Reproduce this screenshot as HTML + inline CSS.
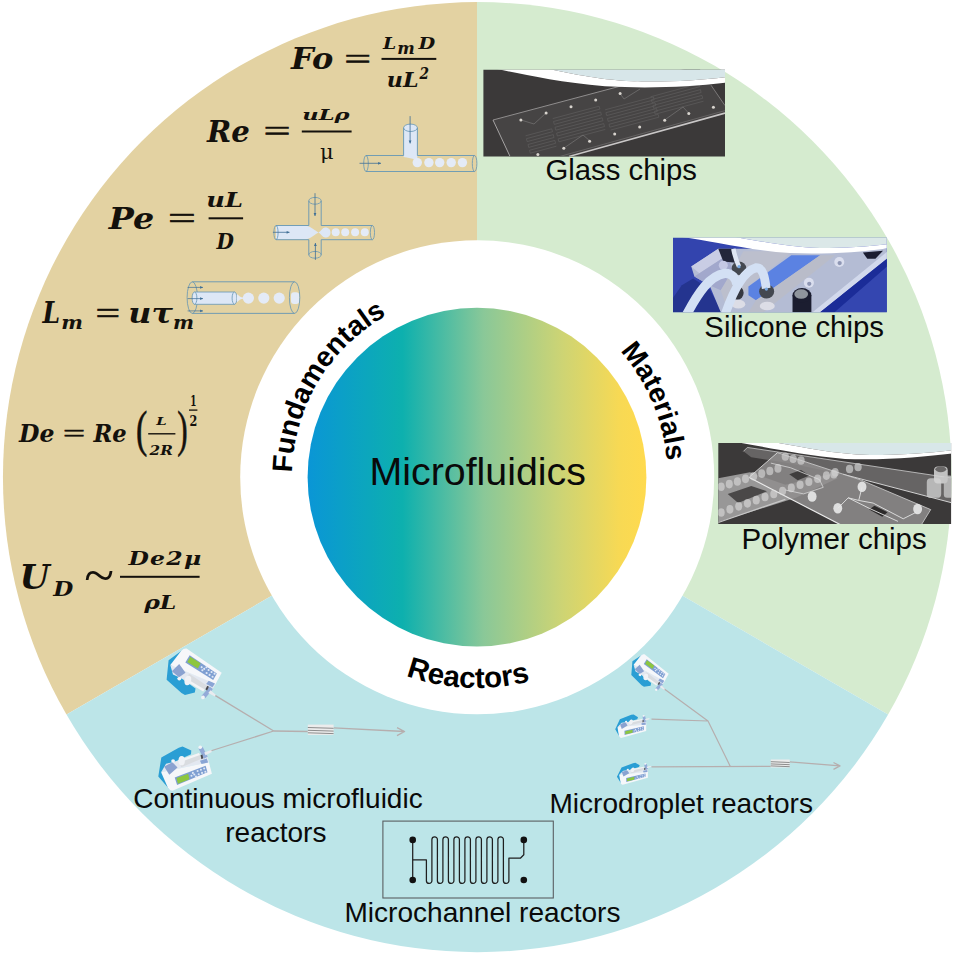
<!DOCTYPE html>
<html lang="en">
<head>
<meta charset="utf-8">
<title>Microfluidics</title>
<style>
html,body{margin:0;padding:0;background:#fff;}
body{width:955px;height:956px;overflow:hidden;}
svg{display:block;}
.lab{font-family:"Liberation Sans",Arial,sans-serif;fill:#0a0a0a;}
.labb{font-family:"Liberation Sans",Arial,sans-serif;font-weight:bold;fill:#000;}
.fm{font-family:"DejaVu Serif","Liberation Serif",serif;font-weight:bold;font-style:italic;fill:#14110c;}
.fq{font-family:"DejaVu Serif","Liberation Serif",serif;font-weight:bold;fill:#14110c;}
.fb{font-family:"DejaVu Serif","Liberation Serif",serif;font-weight:bold;fill:#14110c;}
.fe{font-family:"Liberation Serif",serif;fill:#14110c;stroke:#14110c;stroke-width:0.6px;}
.ft{font-family:"Liberation Serif",serif;fill:#14110c;}
.fu{font-family:"DejaVu Serif","Liberation Serif",serif;fill:#14110c;}
.fp{font-family:"DejaVu Serif","Liberation Serif",serif;fill:#14110c;}
</style>
</head>
<body>
<svg width="955" height="956" viewBox="0 0 955 956">
<defs>
<linearGradient id="cg" x1="307.6" y1="0" x2="646.4" y2="0" gradientUnits="userSpaceOnUse">
<stop offset="0" stop-color="#0a96d6"/>
<stop offset="0.28" stop-color="#0db0ae"/>
<stop offset="0.52" stop-color="#8ac898"/>
<stop offset="0.75" stop-color="#cdd474"/>
<stop offset="0.92" stop-color="#f7d954"/>
<stop offset="1" stop-color="#ffda4e"/>
</linearGradient>
<path id="arcF" d="M 292.0,477 A 185.0,185.0 0 0 1 477,292.0"/>
<path id="arcM" d="M 477,286.5 A 190.5,190.5 0 0 1 667.5,477"/>
<path id="arcR" d="M 266.0,477 A 211.0,211.0 0 0 0 688.0,477"/>
</defs>
<g id="sectors">
<path d="M477,477 L477,2.1 A474.3,475.0 0 0 0 66.5,714.6 Z" fill="#e3d2a2"/>
<path d="M477,477 L477,2.1 A474.3,475.0 0 0 1 888.1,714.6 Z" fill="#d5ebcf"/>
<path d="M477,477 L888.1,714.6 A474.3,475.0 0 0 1 66.5,714.6 Z" fill="#bce5e8"/>
</g>
<circle cx="477.2" cy="477.3" r="237" fill="#fff"/>
<circle cx="477" cy="477.2" r="169.4" fill="url(#cg)"/>
<text class="lab" x="477.7" y="484.6" font-size="39.3" text-anchor="middle">Microfluidics</text>
<text class="labb" font-size="28.3"><textPath href="#arcF" startOffset="4.4">Fundamentals</textPath></text>
<text class="labb" font-size="28"><textPath href="#arcM" startOffset="161.5">Materials</textPath></text>
<text class="labb" font-size="29.5"><textPath href="#arcR" startOffset="258.8">Reactors</textPath></text>
<g id="labels" class="lab">
<text x="545.5" y="180.4" font-size="29.3">Glass chips</text>
<text x="704.3" y="336.8" font-size="29.4">Silicone chips</text>
<text x="741.5" y="549.2" font-size="29.5">Polymer chips</text>
<text x="133.2" y="807.6" font-size="28">Continuous microfluidic</text>
<text x="225.3" y="841.8" font-size="28">reactors</text>
<text x="549.5" y="812.6" font-size="28.05">Microdroplet reactors</text>
<text x="344.5" y="921.7" font-size="28.05">Microchannel reactors</text>
</g>
<g id="formulas">
<text class="fm" x="291.0" y="69.1" font-size="29.5" textLength="42.2" lengthAdjust="spacingAndGlyphs">Fo</text>
<text class="fe" x="344.3" y="69.0" font-size="30.0" textLength="26.8" lengthAdjust="spacingAndGlyphs">=</text>
<text class="fm" x="383.0" y="48.7" font-size="16.8" textLength="13.2" lengthAdjust="spacingAndGlyphs">L</text>
<text class="fm" x="397.3" y="53.5" font-size="17.5" textLength="17.5" lengthAdjust="spacingAndGlyphs">m</text>
<text class="fm" x="418.6" y="48.7" font-size="16.8" textLength="16.7" lengthAdjust="spacingAndGlyphs">D</text>
<rect x="381.5" y="57.90" width="54.8" height="2.0" fill="#14110c"/>
<text class="fm" x="386.8" y="87.3" font-size="21.0" textLength="31.8" lengthAdjust="spacingAndGlyphs">uL</text>
<text class="fm" x="419.5" y="79.3" font-size="17.0" textLength="9.5" lengthAdjust="spacingAndGlyphs">2</text>
<text class="fm" x="207.0" y="141.6" font-size="29.5" textLength="42.8" lengthAdjust="spacingAndGlyphs">Re</text>
<text class="fe" x="263.4" y="141.4" font-size="30.0" textLength="27.1" lengthAdjust="spacingAndGlyphs">=</text>
<text class="fm" x="302.3" y="119.6" font-size="15.5" textLength="47.3" lengthAdjust="spacingAndGlyphs">uLρ</text>
<rect x="301.8" y="130.50" width="49.8" height="2.0" fill="#14110c"/>
<text class="fu" x="320.0" y="158.7" font-size="20.0" textLength="13.6" lengthAdjust="spacingAndGlyphs">μ</text>
<text class="fm" x="108.8" y="228.9" font-size="30.5" textLength="45.4" lengthAdjust="spacingAndGlyphs">Pe</text>
<text class="fe" x="168.1" y="229.4" font-size="32.0" textLength="27.8" lengthAdjust="spacingAndGlyphs">=</text>
<text class="fm" x="206.3" y="206.7" font-size="20.0" textLength="36.7" lengthAdjust="spacingAndGlyphs">uL</text>
<rect x="208.6" y="217.30" width="34.5" height="2.0" fill="#14110c"/>
<text class="fm" x="216.6" y="249.1" font-size="22.0" textLength="17.4" lengthAdjust="spacingAndGlyphs">D</text>
<text class="fm" x="42.4" y="322.7" font-size="29.2" textLength="17.6" lengthAdjust="spacingAndGlyphs">L</text>
<text class="fm" x="61.3" y="329.1" font-size="18.2" textLength="21.7" lengthAdjust="spacingAndGlyphs">m</text>
<text class="fe" x="95.4" y="323.7" font-size="32.0" textLength="24.6" lengthAdjust="spacingAndGlyphs">=</text>
<text class="fm" x="128.3" y="322.7" font-size="27.0" textLength="44.5" lengthAdjust="spacingAndGlyphs">uτ</text>
<text class="fm" x="173.0" y="329.1" font-size="18.2" textLength="21.0" lengthAdjust="spacingAndGlyphs">m</text>
<text class="fm" x="19.0" y="441.5" font-size="23.5" textLength="35.4" lengthAdjust="spacingAndGlyphs">De</text>
<text class="fe" x="62.9" y="441.6" font-size="25.0" textLength="22.1" lengthAdjust="spacingAndGlyphs">=</text>
<text class="fm" x="93.4" y="441.5" font-size="23.5" textLength="33.2" lengthAdjust="spacingAndGlyphs">Re</text>
<text class="fe" x="135.9" y="445.7" font-size="50" textLength="11.3" lengthAdjust="spacingAndGlyphs">(</text>
<text class="fm" x="156.2" y="425.2" font-size="11.8" textLength="10.4" lengthAdjust="spacingAndGlyphs">L</text>
<rect x="148.2" y="433.10" width="27.2" height="1.4" fill="#14110c"/>
<text class="fm" x="149.6" y="455.2" font-size="13.0" textLength="23.2" lengthAdjust="spacingAndGlyphs">2R</text>
<text class="fe" x="177.2" y="445.7" font-size="50" textLength="10.4" lengthAdjust="spacingAndGlyphs">)</text>
<text class="fb" x="190.2" y="405.9" font-size="14.6" textLength="6.2" lengthAdjust="spacingAndGlyphs">1</text>
<rect x="189.0" y="409.45" width="8.4" height="1.3" fill="#14110c"/>
<text class="fb" x="189.4" y="425.8" font-size="14.2" textLength="7.8" lengthAdjust="spacingAndGlyphs">2</text>
<text class="fm" x="19.6" y="588.9" font-size="34.2" textLength="30.2" lengthAdjust="spacingAndGlyphs">U</text>
<text class="fm" x="53.2" y="596.1" font-size="20.4" textLength="20.0" lengthAdjust="spacingAndGlyphs">D</text>
<text class="ft" x="84.2" y="594.1" font-size="55">~</text>
<text class="fm" x="128.4" y="564.7" font-size="18.1" textLength="74.2" lengthAdjust="spacingAndGlyphs" letter-spacing="1">De2μ</text>
<rect x="120.0" y="575.80" width="79.6" height="2.0" fill="#14110c"/>
<text class="fm" x="144.2" y="608.7" font-size="18.1" textLength="32.2" lengthAdjust="spacingAndGlyphs">ρL</text>
</g>
<g id="tjunction" stroke-linejoin="round">
<path d="M403.6,127.8 L403.6,157 C408,157.5 412,158.5 417.4,160 L417.4,127.8 Z" fill="#dde7f6"/>
<ellipse cx="410.5" cy="127.8" rx="6.9" ry="3.7" fill="#dde7f6" stroke="#6596b4" stroke-width="0.8"/>
<circle cx="417.3" cy="162.6" r="4.7" fill="#e4ebf7"/>
<circle cx="428.9" cy="162.6" r="4.7" fill="#e4ebf7"/>
<circle cx="439.7" cy="162.6" r="4.7" fill="#e4ebf7"/>
<circle cx="451.2" cy="162.6" r="4.7" fill="#e4ebf7"/>
<circle cx="462.4" cy="162.6" r="4.7" fill="#e4ebf7"/>
<path d="M366,155.5 L403.6,155.5 M417.4,155.5 L474.6,155.5 M366,171.5 L474.6,171.5" stroke="#6596b4" stroke-width="0.9" fill="none"/>
<ellipse cx="366" cy="163.5" rx="2.3" ry="8" fill="none" stroke="#6596b4" stroke-width="0.8"/>
<ellipse cx="474.6" cy="163.5" rx="2.3" ry="8" fill="none" stroke="#6596b4" stroke-width="0.8"/>
<path d="M403.6,127.8 L403.6,155.5 M417.4,127.8 L417.4,155.5" stroke="#6596b4" stroke-width="0.9" fill="none"/>
<path d="M410.1,116.1 L410.1,143.4" stroke="#3f6f96" stroke-width="0.8" fill="none"/><polygon points="410.1,143.4 408.7,140.5 411.5,140.5" fill="#3f6f96"/>
<path d="M359.5,163.3 L381.0,163.3" stroke="#3f6f96" stroke-width="0.8" fill="none"/><polygon points="381.0,163.3 378.1,164.7 378.1,161.9" fill="#3f6f96"/>
</g>
<g id="crossjunction" stroke-linejoin="round">
<path d="M276,225.6 L306,225.6 C312,227 315,231 318.6,232.4 C321,231 322,228 325,227.4 C329,227.4 330.5,230 330.5,232.4 C330.5,235 329,237.6 325,237.6 C322,237 321,234 318.6,232.6 C315,234 312,238 306,239.6 L276,239.6 Z" fill="#dde7f6"/>
<circle cx="335.7" cy="232.3" r="4.0" fill="#e4ebf7"/>
<circle cx="345.2" cy="232.3" r="4.0" fill="#e4ebf7"/>
<circle cx="355.1" cy="232.3" r="4.0" fill="#e4ebf7"/>
<circle cx="364.8" cy="232.3" r="4.0" fill="#e4ebf7"/>
<path d="M276,225.5 L308.8,225.5 L308.8,200.8 M321.2,200.8 L321.2,225.5 L372.4,225.5 M276,239.7 L308.8,239.7 L308.8,254.8 M321.2,254.8 L321.2,239.7 L372.4,239.7" stroke="#6596b4" stroke-width="0.9" fill="none"/>
<ellipse cx="276" cy="232.6" rx="2.1" ry="7.1" fill="none" stroke="#6596b4" stroke-width="0.8"/>
<ellipse cx="372.4" cy="232.6" rx="2.1" ry="7.1" fill="none" stroke="#6596b4" stroke-width="0.8"/>
<ellipse cx="315" cy="200.8" rx="6.2" ry="3.4" fill="none" stroke="#6596b4" stroke-width="0.8"/>
<ellipse cx="315" cy="254.8" rx="6.2" ry="3.4" fill="none" stroke="#6596b4" stroke-width="0.8"/>
<path d="M315.0,193.2 L315.0,216.0" stroke="#3f6f96" stroke-width="0.8" fill="none"/><polygon points="315.0,216.0 313.6,213.1 316.4,213.1" fill="#3f6f96"/>
<path d="M315.4,259.9 L315.4,243.0" stroke="#3f6f96" stroke-width="0.8" fill="none"/><polygon points="315.4,243.0 316.8,245.9 314.0,245.9" fill="#3f6f96"/>
<path d="M272.9,232.3 L289.5,232.3" stroke="#3f6f96" stroke-width="0.8" fill="none"/><polygon points="289.5,232.3 286.6,233.7 286.6,230.9" fill="#3f6f96"/>
</g>
<g id="coflow" stroke-linejoin="round">
<path d="M192.3,281.8 L294.6,281.8 M192.3,313.4 L294.6,313.4" stroke="#6596b4" stroke-width="0.9" fill="none"/>
<ellipse cx="192.3" cy="297.6" rx="5.2" ry="15.8" fill="none" stroke="#6596b4" stroke-width="0.8"/>
<path d="M194.5,292 L234.5,292 L234.5,304.3 L194.5,304.3 Z" fill="#dde7f6" stroke="#6596b4" stroke-width="0.8"/>
<ellipse cx="194.5" cy="298.1" rx="2.4" ry="6.1" fill="#dde7f6" stroke="#6596b4" stroke-width="0.8"/>
<ellipse cx="234.5" cy="298.1" rx="2.4" ry="6.1" fill="#dde7f6" stroke="#6596b4" stroke-width="0.8"/>
<path d="M236.9,294 C239,296 241,297.6 243.5,297.4 L243.5,298.8 C241,298.6 239,300.4 236.9,302.4 Z" fill="#e4ebf7"/>
<circle cx="248.4" cy="298.1" r="5.6" fill="#e4ebf7"/>
<circle cx="263.8" cy="298.1" r="5.6" fill="#e4ebf7"/>
<circle cx="279.2" cy="298.1" r="5.6" fill="#e4ebf7"/>
<rect x="291" y="292.2" width="8.2" height="11.8" rx="3" fill="#e4ebf7"/>
<ellipse cx="294.6" cy="297.6" rx="5.2" ry="15.8" fill="none" stroke="#6596b4" stroke-width="0.8"/>
<path d="M187.6,287.4 L203.0,287.4" stroke="#3f6f96" stroke-width="0.7" fill="none"/><polygon points="203.0,287.4 200.1,288.8 200.1,286.0" fill="#3f6f96"/>
<path d="M187.6,298.6 L203.0,298.6" stroke="#3f6f96" stroke-width="0.7" fill="none"/><polygon points="203.0,298.6 200.1,300.0 200.1,297.2" fill="#3f6f96"/>
<path d="M187.6,310.9 L203.0,310.9" stroke="#3f6f96" stroke-width="0.7" fill="none"/><polygon points="203.0,310.9 200.1,312.3 200.1,309.5" fill="#3f6f96"/>
</g>
<clipPath id="cpG"><rect x="483.4" y="69.8" width="241.6" height="86.6"/></clipPath>
<g id="glass" clip-path="url(#cpG)">
<rect x="483" y="69" width="243" height="88" fill="#3b3939"/>
<polygon points="493,120 697.5,65.6 725,105.6 725,113.1 569,156.4 510,156.4" fill="#464444"/>
<path d="M525.6,135.8 L551.7,128.8 L552.5,131.7 L526.4,138.7 L527.2,141.6 L553.3,134.6 L554.0,137.5 L528.0,144.5 L528.7,147.4 L554.8,140.4 L555.6,143.3 L529.5,150.3 L530.3,153.2 L556.4,146.2" fill="none" stroke="#5f5d5d" stroke-width="0.7" stroke-linejoin="round"/>
<path d="M552.7,118.6 L599.1,106.2 L599.9,109.1 L553.5,121.5 L554.3,124.4 L600.6,112.0 L601.4,114.9 L555.0,127.3 L555.8,130.2 L602.2,117.8 L603.0,120.7 L556.6,133.1 L557.4,136.0 L603.7,123.6 L604.5,126.5 L558.1,138.9 L558.9,141.8 L605.3,129.4" fill="none" stroke="#5f5d5d" stroke-width="0.7" stroke-linejoin="round"/>
<path d="M605.1,109.8 L653.4,96.9 L654.2,99.8 L605.9,112.7 L606.7,115.6 L655.0,102.7 L655.8,105.6 L607.5,118.5 L608.2,121.4 L656.5,108.5 L657.3,111.4 L609.0,124.3 L609.8,127.2 L658.1,114.3 L658.9,117.2 L610.6,130.1" fill="none" stroke="#5f5d5d" stroke-width="0.7" stroke-linejoin="round"/>
<path d="M650.5,96.8 L698.8,83.8 L699.6,86.7 L651.3,99.7 L652.1,102.6 L700.4,89.6 L701.1,92.5 L652.9,105.5 L653.6,108.4 L701.9,95.4 L702.7,98.3 L654.4,111.3 L655.2,114.2 L703.5,101.2" fill="none" stroke="#5f5d5d" stroke-width="0.7" stroke-linejoin="round"/>
<path d="M521,120 L534,124 L546,113 M564,148 L583,135 L590,141 M620,93.5 L624,99 L640,89 M664.5,120 L683,107 L689,113.5" fill="none" stroke="#777575" stroke-width="0.7"/>
<path d="M493,120 L697.5,65.6" stroke="#8f8d8d" stroke-width="1" fill="none"/>
<path d="M493,120 L510,156.4" stroke="#a5a3a3" stroke-width="1" fill="none"/>
<path d="M711,85.2 L725,105.6" stroke="#8a8888" stroke-width="0.8" fill="none"/>
<path d="M569,156.4 L725,113.1" stroke="#c9c7c7" stroke-width="1.6" fill="none"/>
<path d="M560,156.4 L725,110.6" stroke="#6d6b6b" stroke-width="0.8" fill="none"/>
<circle cx="520.9" cy="119.9" r="1.5" fill="#d8d4ce"/>
<circle cx="546.1" cy="113.1" r="1.5" fill="#d8d4ce"/>
<circle cx="571" cy="106.7" r="1.5" fill="#d8d4ce"/>
<circle cx="595.7" cy="99.9" r="1.5" fill="#d8d4ce"/>
<circle cx="563.8" cy="148.2" r="1.5" fill="#d8d4ce"/>
<circle cx="589.6" cy="141.3" r="1.5" fill="#d8d4ce"/>
<circle cx="537.9" cy="154.6" r="1.5" fill="#d8d4ce"/>
<circle cx="620.1" cy="93.4" r="1.5" fill="#d8d4ce"/>
<circle cx="713.4" cy="107.2" r="1.5" fill="#d8d4ce"/>
<circle cx="688.8" cy="113.5" r="1.5" fill="#d8d4ce"/>
<circle cx="664.7" cy="120.3" r="1.5" fill="#d8d4ce"/>
<circle cx="639.7" cy="127" r="1.5" fill="#d8d4ce"/>
<circle cx="614.7" cy="133.9" r="1.5" fill="#d8d4ce"/>
<path d="M548.8,69 C575,74 600,80.5 640.8,81.5 C670,82 700,80.5 726,77.2 L726,69 Z" fill="#d7e6e9"/>
<path d="M497,69 C520,73.5 556,82 605,86.3 C648,88.8 690,87 726,82.7 L726,77.2 C700,80.5 670,82 640.8,81.5 C600,80.5 575,74 548.8,69 Z" fill="#ffffff"/>
</g>
<clipPath id="cpS"><rect x="673" y="237.8" width="213.8" height="74.5"/></clipPath>
<g id="silicone" clip-path="url(#cpS)">
<rect x="672" y="237" width="216" height="76" fill="#3344ae"/>
<g transform="translate(668,230) scale(0.12566)">
<polygon points="40,540 110,440 200,385 330,470 430,655 40,655" fill="#24348f"/>
<polygon points="185,290 400,150 1760,150 1760,230 1211,655 420,655 330,440 210,370" fill="#b4bcd4"/>
<polygon points="185,290 400,150 470,200 250,345" fill="#c9cde4"/>
<polygon points="210,370 250,345 470,200 520,330 420,480 330,440" fill="#a2a8cc"/>
<polygon points="600,170 990,170 640,450 480,655 420,480" fill="#bcbfcd"/>
<polygon points="640,450 981,200 1211,200 700,560 640,520" fill="#5b82e2"/>
<polygon points="700,560 1211,200 1330,200 760,655 640,655" fill="#b9bcc9"/>
<polygon points="1150,655 1760,160 1760,215 1211,655" fill="#d2d9ec"/>
<polygon points="1211,655 1760,215 1760,655" fill="#3446b0"/>
<polygon points="1211,655 1325,655 1760,275 1760,215" fill="#1b2c98"/>
<polygon points="1551,180 1711,165 1651,228 1586,228" fill="#1a1c30"/>
<circle cx="1363" cy="255" r="40" fill="#dadeee"/><circle cx="1366" cy="263" r="17" fill="#8e96b4"/>
<circle cx="1121" cy="420" r="40" fill="#dadeee"/><circle cx="1124" cy="428" r="17" fill="#8e96b4"/>
<path d="M991,520 L991,655 L1141,655 L1141,520 Z" fill="#1b1d30"/>
<ellipse cx="1066" cy="520" rx="75" ry="58" fill="#1b1d30"/>
<ellipse cx="1060" cy="510" rx="55" ry="38" fill="#8f959d"/>
<polygon points="400,150 520,150 540,260 440,250" fill="#23263a"/>
<ellipse cx="560" cy="590" rx="55" ry="34" fill="#dcdde6"/>
<ellipse cx="790" cy="605" rx="60" ry="34" fill="#dcdde6"/>
<ellipse cx="565" cy="305" rx="58" ry="54" fill="#444850"/>
<ellipse cx="552" cy="500" rx="50" ry="54" fill="#353841"/>
<ellipse cx="785" cy="490" rx="60" ry="56" fill="#444850"/>
<circle cx="440" cy="280" r="36" fill="#c4c8e4"/>
<path d="M150,670 C240,500 330,365 450,345 C510,340 540,390 548,430" fill="none" stroke="#d3e0f4" stroke-width="74"/>
<path d="M455,670 C520,480 600,330 700,300 C760,300 770,380 782,465" fill="none" stroke="#d3e0f4" stroke-width="70"/>
<path d="M520,150 C530,200 545,250 565,290" fill="none" stroke="#dfe6f4" stroke-width="36"/>
<circle cx="565" cy="292" r="13" fill="#78a8e0"/>
<circle cx="783" cy="470" r="13" fill="#78a8e0"/>
</g>
<path d="M735,237 C760,241 790,247.5 820,248 C845,248 870,246.5 888,244 L888,237 Z" fill="#dbe8e8"/>
<path d="M682,237 C710,240.8 750,250.4 790,253.1 C825,254.6 860,252.2 888,248.3 L888,244 C870,246.5 845,248 820,248 C790,247.5 760,241 735,237 Z" fill="#ffffff"/>
</g>
<clipPath id="cpP"><rect x="718.3" y="442.9" width="232.8" height="81.1"/></clipPath>
<g id="polymer" clip-path="url(#cpP)">
<rect x="717" y="442" width="236" height="83" fill="#3b3939"/>
<g transform="translate(712,435) scale(0.13089)">
<polygon points="240,125 270,95 1840,330 1840,520 1001,300 560,210 300,170" fill="#686666" fill-opacity="0.95"/>
<path d="M240,125 L270,95 L1840,330" stroke="#cfcfcf" stroke-width="6" fill="none"/>
<path d="M1001,300 L1840,520" stroke="#dedede" stroke-width="7" fill="none"/>
<polygon points="48,330 290,285 560,380 900,300 960,330 640,480 48,665" fill="#b2b2b2" fill-opacity="0.78"/>
<polygon points="120,450 300,390 420,430 200,520" fill="#4a4848"/>
<polygon points="285,325 500,135 1141,345 1671,570 1591,700 1010,700" fill="#8f8d8d" fill-opacity="0.85"/>
<polygon points="590,300 680,268 745,310 655,345" fill="#3f3d3d"/>
<polygon points="1201,570 1241,540 1341,590 1301,625" fill="#2c2a2a"/>
<path d="M285,325 L1010,700" stroke="#ececec" stroke-width="9" fill="none"/>
<path d="M285,322 L500,135" stroke="#dadada" stroke-width="7" fill="none"/>
<path d="M500,135 L1141,345 L1671,570 L1591,700" stroke="#d4d4d4" stroke-width="6" fill="none"/>
<path d="M450,215 L600,250 L820,340 L850,400 L700,450 L560,420" stroke="#d8d8d8" stroke-width="6" fill="none"/>
<path d="M1146,400 L1121,500 L1041,480 L961,560 M1121,500 L1231,520 L1461,640 L1561,590 M1041,480 L1201,560 L1421,660" stroke="#e2e2e2" stroke-width="7" fill="none"/>
<ellipse cx="70" cy="395" rx="27" ry="33" fill="#dcdcdc" fill-opacity="0.6"/>
<ellipse cx="132" cy="375" rx="27" ry="33" fill="#dcdcdc" fill-opacity="0.6"/>
<ellipse cx="194" cy="355" rx="27" ry="33" fill="#dcdcdc" fill-opacity="0.6"/>
<ellipse cx="256" cy="335" rx="27" ry="33" fill="#dcdcdc" fill-opacity="0.6"/>
<ellipse cx="318" cy="315" rx="27" ry="33" fill="#dcdcdc" fill-opacity="0.6"/>
<ellipse cx="380" cy="295" rx="27" ry="33" fill="#dcdcdc" fill-opacity="0.6"/>
<ellipse cx="442" cy="275" rx="27" ry="33" fill="#dcdcdc" fill-opacity="0.6"/>
<ellipse cx="504" cy="255" rx="27" ry="33" fill="#dcdcdc" fill-opacity="0.6"/>
<ellipse cx="70" cy="592" rx="27" ry="33" fill="#dedede" fill-opacity="0.6"/>
<ellipse cx="137" cy="568" rx="27" ry="33" fill="#dedede" fill-opacity="0.6"/>
<ellipse cx="204" cy="545" rx="27" ry="33" fill="#dedede" fill-opacity="0.6"/>
<ellipse cx="271" cy="522" rx="27" ry="33" fill="#dedede" fill-opacity="0.6"/>
<ellipse cx="338" cy="498" rx="27" ry="33" fill="#dedede" fill-opacity="0.6"/>
<ellipse cx="405" cy="474" rx="27" ry="33" fill="#dedede" fill-opacity="0.6"/>
<ellipse cx="472" cy="451" rx="27" ry="33" fill="#dedede" fill-opacity="0.6"/>
<ellipse cx="539" cy="428" rx="27" ry="33" fill="#dedede" fill-opacity="0.6"/>
<ellipse cx="606" cy="404" rx="27" ry="33" fill="#dedede" fill-opacity="0.6"/>
<ellipse cx="673" cy="380" rx="27" ry="33" fill="#dedede" fill-opacity="0.6"/>
<ellipse cx="740" cy="357" rx="27" ry="33" fill="#dedede" fill-opacity="0.6"/>
<ellipse cx="807" cy="334" rx="27" ry="33" fill="#dedede" fill-opacity="0.6"/>
<ellipse cx="874" cy="310" rx="27" ry="33" fill="#dedede" fill-opacity="0.6"/>
<ellipse cx="941" cy="286" rx="27" ry="33" fill="#dedede" fill-opacity="0.6"/>
<ellipse cx="560" cy="165" rx="28" ry="32" fill="#cfcfcf" fill-opacity="0.7"/>
<ellipse cx="620" cy="182" rx="28" ry="32" fill="#cfcfcf" fill-opacity="0.7"/>
<ellipse cx="680" cy="195" rx="28" ry="32" fill="#cfcfcf" fill-opacity="0.7"/>
<ellipse cx="1051" cy="260" rx="28" ry="32" fill="#cfcfcf" fill-opacity="0.7"/>
<ellipse cx="1116" cy="245" rx="28" ry="32" fill="#cfcfcf" fill-opacity="0.7"/>
<ellipse cx="931" cy="300" rx="28" ry="32" fill="#cfcfcf" fill-opacity="0.7"/>
<ellipse cx="765" cy="470" rx="34" ry="40" fill="#e6e6e6" fill-opacity="0.92"/>
<ellipse cx="1146" cy="395" rx="34" ry="40" fill="#e6e6e6" fill-opacity="0.92"/>
<ellipse cx="961" cy="560" rx="34" ry="40" fill="#e6e6e6" fill-opacity="0.92"/>
<ellipse cx="1571" cy="565" rx="34" ry="40" fill="#e6e6e6" fill-opacity="0.92"/>
<path d="M48,668 L560,492" stroke="#c8c8c8" stroke-width="9" fill="none"/>
<rect x="1641" y="330" width="110" height="150" rx="30" fill="#c9c9c9" fill-opacity="0.82"/>
<rect x="1696" y="240" width="105" height="130" rx="30" fill="#d4d4d4" fill-opacity="0.88"/>
<ellipse cx="1748" cy="262" rx="42" ry="22" fill="#6a6868"/>
<rect x="1771" y="310" width="70" height="170" rx="25" fill="#c4c4c4" fill-opacity="0.82"/>
</g>
<path d="M772,442 C800,446 830,454 870,455 C900,455 930,453 953,450 L953,442 Z" fill="#d8e7e9"/>
<path d="M735,442 C765,446.5 800,455 845,458.9 C885,460.6 925,456.6 953,453.4 L953,450 C930,453 900,455 870,455 C830,454 800,446 772,442 Z" fill="#ffffff"/>
</g>
<defs><g id="pump">
<polygon points="88,440 120,240 305,135 345,122 438,165 435,205 160,330 130,400 215,585" fill="#2a9ed4"/>
<polygon points="118,395 170,305 600,205 628,290" fill="#e3e8f1"/>
<path d="M118,395 L625,288 L657,412 L238,592 Q205,590 190,560 Z" fill="#f6f7fa"/>
<polygon points="262,450 590,325 610,395 287,530" fill="#7f9fd2"/>
<polygon points="281,457 405,412 418,470 296,516" fill="#8dc63f"/>
<circle cx="440" cy="432" r="11" fill="#dfe7f5"/>
<circle cx="470" cy="420" r="11" fill="#dfe7f5"/>
<circle cx="455" cy="402" r="11" fill="#dfe7f5"/>
<circle cx="488" cy="440" r="11" fill="#dfe7f5"/>
<circle cx="505" cy="382" r="11" fill="#dfe7f5"/>
<circle cx="540" cy="369" r="11" fill="#dfe7f5"/>
<circle cx="575" cy="356" r="11" fill="#dfe7f5"/>
<circle cx="517" cy="416" r="11" fill="#dfe7f5"/>
<circle cx="552" cy="402" r="11" fill="#dfe7f5"/>
<circle cx="587" cy="390" r="11" fill="#dfe7f5"/>
<polygon points="150,335 238,288 292,345 205,422" fill="#8aa2d0"/>
<polygon points="300,268 520,190 548,252 332,342" fill="#d9dce0"/>
<polygon points="300,268 520,190 530,212 310,292" fill="#f3f4f6"/>
<ellipse cx="336" cy="272" rx="34" ry="50" fill="#f0f2f6"/>
<ellipse cx="245" cy="275" rx="20" ry="18" fill="#f4f5f8"/>
<polygon points="530,272 602,250 617,292 547,308" fill="#8aa5d5"/>
<polygon points="515,145 560,128 612,232 572,252" fill="#93abd8"/>
<polygon points="536,215 556,208 566,248 546,256" fill="#4a4a50"/>
<polygon points="575,185 650,160 656,181 590,216" fill="#e9ebef"/>
<circle cx="533" cy="130" r="19" fill="#f2f3f7"/>
</g></defs>
<g id="continuous">
<path d="M213.8,694.6 L273.7,731 L210.4,751 M273.7,731 L307.8,731.5 M333.6,727.8 L404.6,731.5 M397,727.6 L404.6,731.5 L397,735.6" fill="none" stroke="#b6aeae" stroke-width="1.3" stroke-linejoin="round"/>
<rect x="307.8" y="724.6" width="25.8" height="10.3" fill="#ececec"/><path d="M307.8,727.5 L333.6,728.3" stroke="#8d8d8d" stroke-width="1"/><path d="M307.8,730.3 L333.6,731.1" stroke="#8d8d8d" stroke-width="1"/><path d="M307.8,732.8 L333.6,733.6" stroke="#8d8d8d" stroke-width="1"/>
<use href="#pump" transform="matrix(0.09424,0.00000,0.00000,0.09424,150.000,735.000)"/>
<use href="#pump" transform="matrix(0.09459,0.01726,0.02501,-0.09464,149.267,700.470)"/>
</g>
<g id="microdroplet">
<path d="M663,688.1 L708,721 L651.5,719.2 M708,721 L730.3,766.4 M651.5,766.8 L770.8,766.4 M789.7,761.8 L840,765.9 M833.5,762.5 L840,765.9 L833.5,769.4" fill="none" stroke="#b6aeae" stroke-width="1.2" stroke-linejoin="round"/>
<rect x="770.8" y="759.5" width="18.9" height="8.0" fill="#ececec"/><path d="M770.8,761.7 L789.7,762.5" stroke="#8d8d8d" stroke-width="1"/><path d="M770.8,763.9 L789.7,764.7" stroke="#8d8d8d" stroke-width="1"/><path d="M770.8,765.9 L789.7,766.7" stroke="#8d8d8d" stroke-width="1"/>
<use href="#pump" transform="matrix(0.06453,0.01861,0.01583,-0.06487,619.767,688.228)"/>
<use href="#pump" transform="matrix(0.05362,0.00567,-0.01456,0.05131,616.920,706.190)"/>
<use href="#pump" transform="matrix(0.05362,0.00414,-0.01456,0.04767,618.620,755.507)"/>
</g>
<g id="microchannel">
<rect x="382.9" y="821.1" width="170.4" height="76.9" fill="none" stroke="#5a5f62" stroke-width="1.1"/>
<path d="M412.7,859.9 L426.4,859.9 L426.4,880.65 A2.75,2.75 0 0 0 431.90,880.65 L431.90,839.55 A2.75,2.75 0 0 1 437.40,839.55 L437.40,880.65 A2.75,2.75 0 0 0 442.90,880.65 L442.90,839.55 A2.75,2.75 0 0 1 448.40,839.55 L448.40,880.65 A2.75,2.75 0 0 0 453.90,880.65 L453.90,839.55 A2.75,2.75 0 0 1 459.40,839.55 L459.40,880.65 A2.75,2.75 0 0 0 464.90,880.65 L464.90,839.55 A2.75,2.75 0 0 1 470.40,839.55 L470.40,880.65 A2.75,2.75 0 0 0 475.90,880.65 L475.90,839.55 A2.75,2.75 0 0 1 481.40,839.55 L481.40,880.65 A2.75,2.75 0 0 0 486.90,880.65 L486.90,839.55 A2.75,2.75 0 0 1 492.40,839.55 L492.40,880.65 A2.75,2.75 0 0 0 497.90,880.65 L497.90,839.55 A2.75,2.75 0 0 1 503.40,839.55 L503.40,880.65 A2.75,2.75 0 0 0 508.90,880.65 L508.90,858 L520.6,858 L523.8,854.8 L523.8,839.9" fill="none" stroke="#1f1f1f" stroke-width="1.25" stroke-linejoin="round"/>
<path d="M412.7,839.9 L412.7,880" stroke="#1f1f1f" stroke-width="1.25"/>
<circle cx="412.7" cy="839.9" r="3.3" fill="#111"/>
<circle cx="412.7" cy="880" r="3.3" fill="#111"/>
<circle cx="523.8" cy="839.9" r="3.3" fill="#111"/>
<circle cx="523.8" cy="880" r="3.3" fill="#111"/>
</g>
</svg>
</body>
</html>
